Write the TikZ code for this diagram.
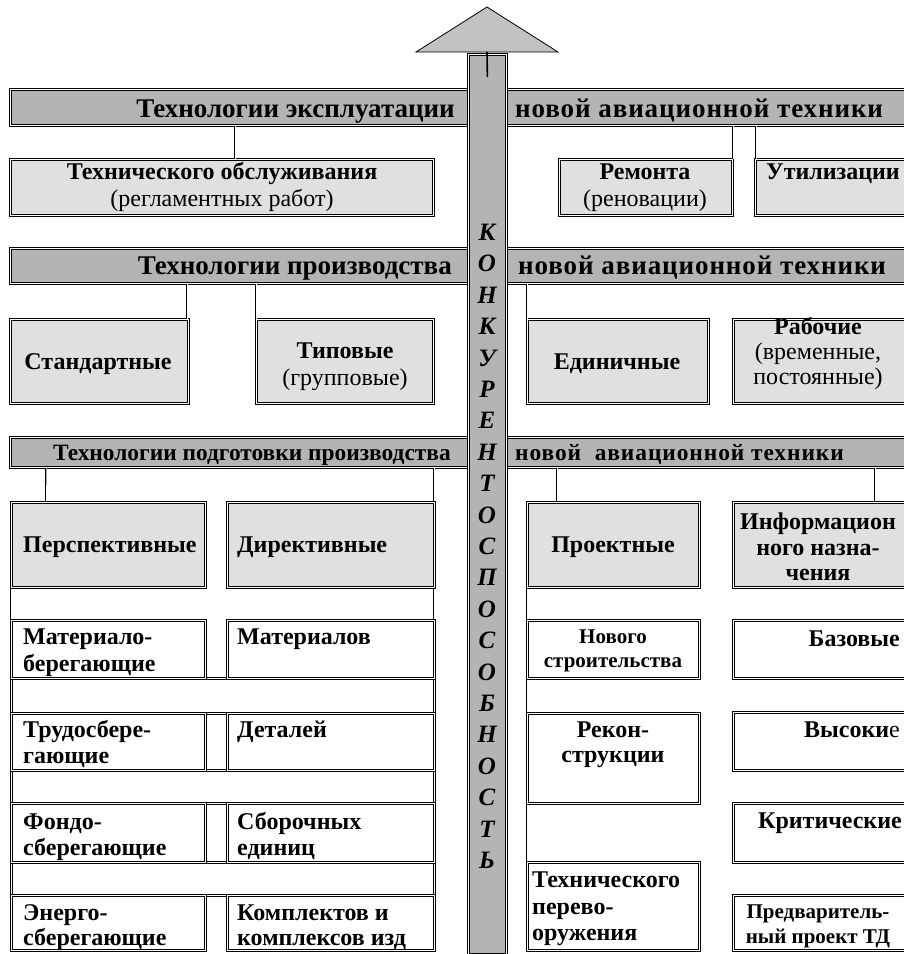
\documentclass[tikz,border=0pt]{standalone}
\usepackage{fontspec}
\setmainfont{Liberation Serif}
\definecolor{bandgray}{RGB}{180,180,180}
\definecolor{boxgray}{RGB}{224,224,224}
\definecolor{trigray}{RGB}{194,194,194}
\newcommand\fsz[1]{\fontsize{#1}{#1}\selectfont}
\newcommand\wide[1]{\addfontfeature{LetterSpace=#1}}
\tikzset{
  dbl/.style={draw=black, double=white, line width=0.75pt, double distance=1pt},
  bandbox/.style={dbl, fill=bandgray, anchor=north west, inner sep=0pt},
  gbox/.style={dbl, fill=boxgray, anchor=north west, inner sep=0pt},
  wbox/.style={dbl, fill=white, anchor=north west, inner sep=0pt},
  bt/.style={inner sep=0pt, font=\fsz{27}\bfseries},
  bts/.style={inner sep=0pt, font=\fsz{23.4}\bfseries},
  tb/.style={inner sep=0pt, anchor=base, font=\fsz{24}\bfseries},
  tr/.style={inner sep=0pt, anchor=base, font=\fsz{24}},
  tsm/.style={inner sep=0pt, anchor=base, font=\fsz{21}\bfseries},
  bartxt/.style={inner sep=0pt, anchor=base, font=\fsz{25}\bfseries\itshape},
}
\begin{document}
\begin{tikzpicture}[x=1pt,y=-1pt]
\useasboundingbox (0,0) rectangle (904,954);
% bands
\node[bandbox, minimum width=900pt, minimum height=36pt] (band1) at (10,89) {};
\node[bandbox, minimum width=900pt, minimum height=35pt] (band2) at (10,248) {};
\node[bandbox, minimum width=900pt, minimum height=30pt] (band3) at (10,437) {};
% connector x positions
\coordinate (c1) at (235,0);
\coordinate (c2) at (733,0);
\coordinate (c3) at (756,0);
\coordinate (c4) at (187,0);
\coordinate (c5) at (256,0);
\coordinate (c6) at (527,0);
\coordinate (c7) at (46,0);
\coordinate (c8) at (434,0);
\coordinate (c9) at (557,0);
\coordinate (c10) at (875,0);
\coordinate (c11) at (11,0);
\coordinate (bot) at (0,950);
% row 1 boxes
\node[gbox, minimum width=423pt, minimum height=56pt] (obsl) at (10,159) {};
\node[gbox, minimum width=173pt, minimum height=56pt] (remont) at (559,159) {};
\node[gbox, minimum width=155pt, minimum height=56pt] (util) at (755,159) {};
\draw[dbl] (band1.south -| c1) -- (obsl.north -| c1);
\draw[dbl] (band1.south -| c2) -- (remont.north -| c2);
\draw[dbl] (band1.south -| c3) -- (util.north -| c3);
% row 2 boxes
\node[gbox, minimum width=178pt, minimum height=84pt] (stand) at (10,319) {};
\node[gbox, minimum width=177pt, minimum height=84pt] (tipov) at (256,319) {};
\node[gbox, minimum width=181pt, minimum height=84pt] (edin) at (527,319) {};
\node[gbox, minimum width=177pt, minimum height=84pt] (rabo) at (733,319) {};
\draw[dbl] (band2.south -| c4) -- (stand.north -| c4);
\draw[dbl] (band2.south -| c5) -- (tipov.north -| c5);
\draw[dbl] (band2.south -| c6) -- (edin.north -| c6);
% left block gap cells
\node[wbox, minimum width=423pt, minimum height=35pt] (gap1) at (11,678) {};
\node[wbox, minimum width=423pt, minimum height=33pt] (gap2) at (11,770) {};
\node[wbox, minimum width=423pt, minimum height=33pt] (gap3) at (11,862) {};
% frame lines and connectors of band 3
\draw[dbl] (band3.south -| c7) -- ([yshift=-1pt]band3.south -| c7) -- (0,502 -| c7);
\draw[dbl] (band3.south -| c8) -- (bot -| c8);
\draw[dbl] (0,502 -| c11) -- (bot -| c11);
\draw[dbl] (0,502 -| c6) -- (bot -| c6);
\draw[dbl] (band3.south -| c9) -- (0,502 -| c9);
\draw[dbl] (band3.south -| c10) -- (0,502 -| c10);
% row 3 boxes
\node[gbox, minimum width=194pt, minimum height=85pt] (persp) at (11,502) {};
\node[gbox, minimum width=207pt, minimum height=85pt] (direk) at (227,502) {};
\node[gbox, minimum width=172pt, minimum height=85pt] (proekt) at (527,502) {};
\node[gbox, minimum width=177pt, minimum height=85pt] (inform) at (733,502) {};
% row 4
\node[wbox, minimum width=194pt, minimum height=58pt] (mat1) at (11,620) {};
\node[wbox, minimum width=207pt, minimum height=58pt] (mat2) at (227,620) {};
\node[wbox, minimum width=172pt, minimum height=58pt] (novog) at (527,620) {};
\node[wbox, minimum width=177pt, minimum height=58pt] (bazov) at (733,620) {};
% row 5
\node[wbox, minimum width=194pt, minimum height=57pt] (trud) at (11,713) {};
\node[wbox, minimum width=207pt, minimum height=57pt] (detal) at (227,713) {};
\node[wbox, minimum width=172pt, minimum height=90pt] (rekon) at (527,713) {};
\node[wbox, minimum width=177pt, minimum height=58pt] (vysok) at (733,712) {};
% row 6
\node[wbox, minimum width=194pt, minimum height=59pt] (fond) at (11,803) {};
\node[wbox, minimum width=207pt, minimum height=59pt] (sbor) at (227,803) {};
\node[wbox, minimum width=177pt, minimum height=59pt] (krit) at (733,803) {};
% row 7
\node[wbox, minimum width=194pt, minimum height=55pt] (energ) at (11,895) {};
\node[wbox, minimum width=207pt, minimum height=55pt] (kompl) at (227,895) {};
\node[wbox, minimum width=172pt, minimum height=88pt] (techp) at (527,862) {};
\node[wbox, minimum width=177pt, minimum height=55pt] (predv) at (733,895) {};
% vertical bar and arrow head
\node[dbl, fill=bandgray, anchor=north west, inner sep=0pt, minimum width=38pt, minimum height=900pt] (bar) at (468,54) {};
\coordinate (apex) at (487,7);
\coordinate (bl) at (416,52);
\coordinate (br) at (558,52);
\draw[fill=trigray, line width=0.8pt, line join=miter] (bl) -- (apex) -- (br) -- cycle;
\draw[line width=1.6pt] (apex |- bl) -- (bar.north |- 0,77);
% band texts
\node[bt, anchor=base east] (b1l) at (455,117) {Технологии эксплуатации};
\node[bt, anchor=base west] (b1r) at (515,117) {\wide{3.4}новой авиационной техники};
\node[bt, anchor=base east] (b2l) at (452,274) {Технологии производства};
\node[bt, anchor=base west] (b2r) at (518,274) {\wide{3.4}новой авиационной техники};
\node[bts, anchor=base east] (b3l) at (451,460) {Технологии подготовки производства};
\node[bts, anchor=base west] (b3r) at (515,460) {\wide{4}новой\ \ авиационной техники};
% row 1 texts
\node[tb] (t1a) at (222,179) {Технического обслуживания};
\node[tr] (t1b) at (222,206) {(регламентных работ)};
\node[tb] (t2a) at (645,179) {Ремонта};
\node[tr] (t2b) at (645,206) {(реновации)};
\node[tb] (t3a) at (833,179) {Утилизации};
% row 2 texts
\node[tb] (t4) at (98,369) {Стандартные};
\node[tb] (t5a) at (345,358) {Типовые};
\node[tr] (t5b) at (345,385) {(групповые)};
\node[tb] (t6) at (617,369) {Единичные};
\node[tb] (t7a) at (818,334) {Рабочие};
\node[tr] (t7b) at (818,359) {(временные,};
\node[tr] (t7c) at (818,384) {постоянные)};
% row 3 texts
\node[tb, anchor=base west] (t8) at (23,552) {Перспективные};
\node[tb, anchor=base west] (t9) at (237,552) {Директивные};
\node[tb] (t10) at (613,552) {Проектные};
\node[tb] (t11a) at (818,529) {Информацион};
\node[tb] (t11b) at (818,555) {ного назна-};
\node[tb] (t11c) at (818,580) {чения};
% row 4 texts
\node[tb, anchor=base west] (t12a) at (23,644) {Материало-};
\node[tb, anchor=base west] (t12b) at (23,671) {берегающие};
\node[tb, anchor=base west] (t13) at (237,644) {Материалов};
\node[tsm] (t14a) at (613,643) {Нового};
\node[tsm] (t14b) at (613,667) {строительства};
\node[tb, anchor=base east] (t15) at (900,646) {Базовые};
% row 5 texts
\node[tb, anchor=base west] (t16a) at (23,737) {Трудосбере-};
\node[tb, anchor=base west] (t16b) at (23,763) {гающие};
\node[tb, anchor=base west] (t17) at (237,737) {Деталей};
\node[tb] (t18a) at (613,737) {Рекон-};
\node[tb] (t18b) at (613,762) {струкции};
\node[tb, anchor=base east] (t19) at (900,737) {Высоки\mdseries е};
% row 6 texts
\node[tb, anchor=base west] (t20a) at (23,829) {Фондо-};
\node[tb, anchor=base west] (t20b) at (23,855) {сберегающие};
\node[tb, anchor=base west] (t21a) at (237,829) {Сборочных};
\node[tb, anchor=base west] (t21b) at (237,855) {единиц};
\node[tb, anchor=base east] (t22) at (902,828) {Критические};
% row 7 texts
\node[tb, anchor=base west] (t23a) at (23,920) {Энерго-};
\node[tb, anchor=base west] (t23b) at (23,945) {сберегающие};
\node[tb, anchor=base west] (t24a) at (237,920) {Комплектов и};
\node[tb, anchor=base west] (t24b) at (237,945) {комплексов изд};
\node[tb, anchor=base west] (t25a) at (532,887) {Технического};
\node[tb, anchor=base west] (t25b) at (532,914) {перево-};
\node[tb, anchor=base west] (t25c) at (532,940) {оружения};
\node[tsm] (t26a) at (818,918) {Предваритель-};
\node[tsm] (t26b) at (818,943) {ный проект ТД};
% bar letters
\foreach \ch [count=\i from 0] in {К,О,Н,К,У,Р,Е,Н,Т,О,С,П,О,С,О,Б,Н,О,С,Т,Ь}
  \node[bartxt] (L\i) at (487,240.5+31.4*\i) {\ch};
\end{tikzpicture}
\end{document}
